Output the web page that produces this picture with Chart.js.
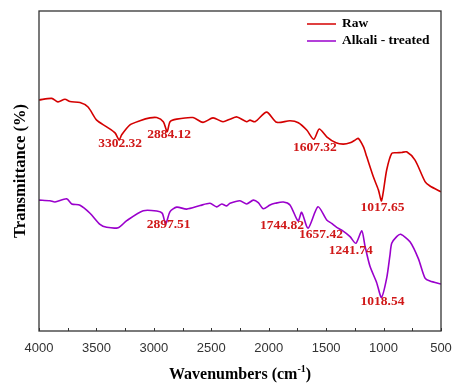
<!DOCTYPE html>
<html lang="en">
<head>
    <meta charset="UTF-8">
    <title>FTIR spectra</title>
    <style>
        body {
            margin: 0;
            background-color: #ffffff;
        }

        #wrap {
            width: 453px;
            height: 383px;
        }
    </style>
</head>
<body>
    <div id="wrap"><canvas id="ftirChart" width="453" height="383"></canvas></div>

    <script src="https://cdn.jsdelivr.net/npm/chart.js"></script>
    <script>
        // Raw fibre spectrum (wavenumber cm-1, transmittance)
        const rawWave = [4000, 3889, 3835, 3774, 3730, 3643, 3573, 3498, 3411, 3338, 3302.32, 3280, 3208, 3121, 3034, 2975,
            2918, 2884.12, 2859, 2801, 2659, 2572, 2485, 2398, 2337, 2276, 2192, 2163, 2119, 2018, 1930, 1815, 1742, 1669,
            1607.32, 1560, 1495, 1414, 1351, 1292, 1242, 1220, 1176, 1147, 1089, 1045, 1017.65, 973, 929, 886, 842, 799,
            726, 639, 596, 500];
        const rawT = [72.2, 72.7, 71.6, 72.4, 71.7, 71.4, 70.0, 65.9, 63.8, 61.9, 59.7, 61.3, 64.4, 65.7, 66.6, 66.7,
            65.4, 62.3, 65.4, 66.2, 66.7, 65.2, 66.6, 65.4, 66.2, 66.9, 65.4, 65.9, 65.4, 68.4, 65.2, 65.7, 65.1, 62.8,
            59.9, 63.1, 60.7, 58.8, 58.4, 58.8, 59.8, 60.2, 57.6, 54.5, 48.2, 44.1, 40.7, 50.3, 55.5, 55.7, 55.8, 56.0,
            53.4, 46.7, 45.3, 43.5];

        // Alkali-treated fibre spectrum
        const alkWave = [4000, 3904, 3861, 3759, 3715, 3643, 3556, 3469, 3411, 3310, 3236, 3092, 2975, 2927, 2897.51,
            2859, 2801, 2714, 2598, 2511, 2453, 2409, 2366, 2337, 2250, 2192, 2134, 2091, 2047, 1989, 1945, 1873, 1815,
            1744.82, 1713, 1657.42, 1571, 1495, 1452, 1408, 1364, 1292, 1241.74, 1190, 1162, 1119, 1060, 1018.54, 973,
            944, 929, 886, 851, 770, 698, 639, 596, 500];
        const alkT = [40.9, 40.7, 40.3, 41.3, 39.7, 39.3, 36.8, 33.3, 32.4, 32.3, 34.5, 37.6, 37.5, 36.8, 33.4,
            37.3, 38.7, 38.1, 39.2, 39.9, 38.8, 39.7, 39.1, 39.9, 40.7, 39.7, 40.9, 40.1, 38.2, 39.4, 39.9, 40.3, 39.4,
            34.4, 37.1, 32.1, 38.8, 34.7, 33.6, 32.4, 31.5, 29.5, 27.4, 31.3, 26.6, 20.3, 15.1, 10.5, 16.5,
            23.8, 27.4, 29.5, 30.2, 27.9, 22.7, 16.5, 15.6, 14.7];

        const seriesNames = ['Raw', 'Alkali - treated'];

        // band assignments written next to the minima: [series index, wavenumber]
        const peaks = [[0, 3302.32], [0, 2884.12], [0, 1607.32], [0, 1017.65],
            [1, 2897.51], [1, 1744.82], [1, 1657.42], [1, 1241.74], [1, 1018.54]];
        // label shift from the minimum, px
        const peakShift = [[1, 4], [2, 3], [1, 8], [1, 7], [3, 0], [-16, 5], [13, 6], [-5, 7], [1, 4]];

        const xTicks = [4000, 3500, 3000, 2500, 2000, 1500, 1000, 500];

        const colors = ['#d40000', '#9a00cc'];
        const serif = '"Liberation Serif", "Times New Roman", serif';

        const toPoints = (w, t) => w.map((x, i) => ({ x: x, y: t[i] }));
        const series = [toPoints(rawWave, rawT), toPoints(alkWave, alkT)];

        const decorations = {
            id: 'decorations',
            afterDatasetsDraw(chart) {
                const { ctx, chartArea: a, scales } = chart;
                const xs = scales.x, ys = scales.y;
                ctx.save();

                // peak labels
                ctx.font = 'bold 13.5px ' + serif;
                ctx.fillStyle = '#d01818';
                ctx.textAlign = 'center';
                ctx.textBaseline = 'middle';
                peaks.forEach(([s, w], i) => {
                    const p = series[s].find(d => d.x === w);
                    const px = xs.getPixelForValue(p.x) + peakShift[i][0];
                    const py = ys.getPixelForValue(p.y) + peakShift[i][1];
                    ctx.fillText(w.toFixed(2), px, py);
                });

                // legend
                ctx.textAlign = 'left';
                ctx.fillStyle = '#000';
                seriesNames.forEach((name, i) => {
                    const y = 24 + i * 17;
                    ctx.strokeStyle = colors[i];
                    ctx.lineWidth = 1.5;
                    ctx.beginPath();
                    ctx.moveTo(307, y);
                    ctx.lineTo(336, y);
                    ctx.stroke();
                    ctx.fillText(name, 342, y);
                });

                // frame and inward ticks
                ctx.strokeStyle = '#333';
                ctx.lineWidth = 1.3;
                ctx.strokeRect(a.left, a.top, a.right - a.left, a.bottom - a.top);
                ctx.lineWidth = 1;
                ctx.beginPath();
                for (let w = 500; w <= 4000; w += 250) {
                    const x = Math.round(xs.getPixelForValue(w)) + 0.5;
                    ctx.moveTo(x, a.bottom);
                    ctx.lineTo(x, a.bottom - 3);
                }
                ctx.stroke();

                // axis titles
                ctx.fillStyle = '#000';
                ctx.textBaseline = 'middle';
                const t1 = 'Wavenumbers (cm', sup = '-1', t2 = ')';
                ctx.font = 'bold 16px ' + serif;
                const w1 = ctx.measureText(t1).width, w3 = ctx.measureText(t2).width;
                ctx.font = 'bold 10px ' + serif;
                const w2 = ctx.measureText(sup).width;
                const x0 = 240 - (w1 + w2 + w3) / 2;
                const ty = 375;
                ctx.textAlign = 'left';
                ctx.font = 'bold 16px ' + serif;
                ctx.fillText(t1, x0, ty);
                ctx.font = 'bold 10px ' + serif;
                ctx.fillText(sup, x0 + w1, ty - 6);
                ctx.font = 'bold 16px ' + serif;
                ctx.fillText(t2, x0 + w1 + w2, ty);

                ctx.translate(21, 171);
                ctx.rotate(-Math.PI / 2);
                ctx.textAlign = 'center';
                ctx.font = 'bold 16.5px ' + serif;
                ctx.fillText('Transmittance (%)', 0, 0);
                ctx.restore();
            }
        };

        const chart = new Chart(document.getElementById('ftirChart').getContext('2d'), {
            type: 'line',
            data: {
                datasets: series.map((pts, i) => ({
                    label: seriesNames[i],
                    data: pts,
                    borderColor: colors[i],
                    borderWidth: 1.6,
                    pointRadius: 0,
                    tension: 0.25,
                    fill: false
                }))
            },
            options: {
                responsive: false,
                animation: false,
                layout: { padding: { left: 39, right: 12, top: 11, bottom: 0 } },
                plugins: {
                    legend: { display: false },
                    tooltip: { enabled: false }
                },
                scales: {
                    x: {
                        type: 'linear',
                        reverse: true,
                        min: 500,
                        max: 4000,
                        afterBuildTicks: s => { s.ticks = xTicks.map(v => ({ value: v })); },
                        afterFit: s => {
                            s.height = 52;
                            s.paddingLeft = 0;
                            s.paddingRight = 0;
                        },
                        grid: { display: false, drawTicks: false },
                        border: { display: false },
                        ticks: {
                            autoSkip: false,
                            maxRotation: 0,
                            padding: 10,
                            color: '#333',
                            callback: v => String(v),
                            font: { family: '"Liberation Sans", Arial, sans-serif', size: 13 }
                        }
                    },
                    y: {
                        display: false,
                        min: 0,
                        max: 100
                    }
                }
            },
            plugins: [decorations]
        });
    </script>
</body>
</html>
